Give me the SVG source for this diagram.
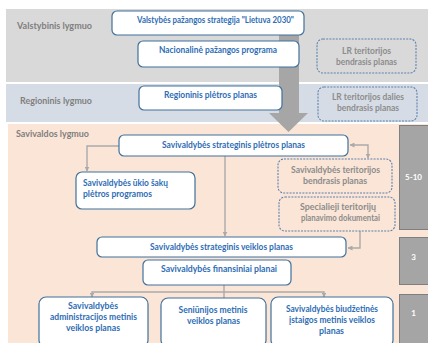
<svg xmlns="http://www.w3.org/2000/svg" width="428" height="343" viewBox="0 0 428 343">
<defs>
<style>
.box{fill:#fff;stroke:#41719c;stroke-width:1.2}
.dbox{fill:none;stroke:#5b82b0;stroke-width:1.1;stroke-dasharray:2 1.2}
.t{font-family:Lato,"Liberation Sans",sans-serif;font-weight:bold;font-size:8.5px;fill:#2e6db4;text-anchor:middle}
.g{font-family:Lato,"Liberation Sans",sans-serif;font-weight:bold;font-size:8.5px;fill:#8c8c8c;text-anchor:middle}
.lvl{font-family:Lato,"Liberation Sans",sans-serif;font-weight:bold;font-size:8.5px;fill:#7f7f7f}
.num{font-family:Lato,"Liberation Sans",sans-serif;font-weight:bold;font-size:8px;fill:#fff;text-anchor:middle}
.nb{fill:#a5a5a5;stroke:#7f7f7f;stroke-width:1}
.c{fill:none;stroke:#aaaaaa;stroke-width:1.4}
</style>
<marker id="ah" viewBox="0 0 10 10" refX="9" refY="5" markerWidth="5" markerHeight="5" orient="auto-start-reverse" markerUnits="userSpaceOnUse">
<path d="M0,0 L10,5 L0,10 z" fill="#aaaaaa"/>
</marker>
</defs>
<rect width="428" height="343" fill="#fff"/>
<g id="bands">
<rect x="6" y="9" width="422" height="73" fill="#d9d9d9"/>
<rect x="6" y="84" width="422" height="38" fill="#d6dce5"/>
<rect x="8" y="124" width="420" height="219" fill="#fbe5d6"/>
<text class="lvl" x="17" y="29" textLength="75" lengthAdjust="spacingAndGlyphs">Valstybinis  lygmuo</text>
<text class="lvl" x="20" y="104" textLength="72" lengthAdjust="spacingAndGlyphs">Regioninis  lygmuo</text>
<text class="lvl" x="16" y="137" textLength="73" lengthAdjust="spacingAndGlyphs">Savivaldos lygmuo</text>
</g>
<g id="bigarrow">
<path d="M279,33 L299,33 L299,113 L308,113 L288.5,132 L269,113 L279,113 z" fill="#a6a6a6"/>
</g>
<g id="connectors">
<path class="c" d="M119,146 H87 V171" marker-end="url(#ah)"/>
<path class="c" d="M350,145 H368 V158" marker-start="url(#ah)" marker-end="url(#ah)"/>
<path class="c" d="M225,156 V236" marker-end="url(#ah)"/>
<path class="c" d="M360,231 V248 H348" marker-end="url(#ah)"/>
<path class="c" d="M224,285 V298"/>
<path class="c" d="M92,297 V292 H324 V297" marker-start="url(#ah)" marker-end="url(#ah)"/>
</g>
<g id="n1">
<rect class="box" x="112" y="11" width="192" height="24" rx="5"/>
<text class="t" x="215.5" y="23" textLength="157" lengthAdjust="spacingAndGlyphs">Valstybės pažangos strategija "Lietuva 2030"</text>
</g>
<g id="n2">
<rect class="box" x="138" y="41" width="161" height="26" rx="5"/>
<text class="t" x="218" y="53" textLength="118" lengthAdjust="spacingAndGlyphs">Nacionalinė pažangos programa</text>
</g>
<g id="n3">
<rect class="box" x="139" y="86" width="143" height="24" rx="5"/>
<text class="t" x="210.5" y="98" textLength="93" lengthAdjust="spacingAndGlyphs">Regioninis plėtros planas</text>
</g>
<g id="n4">
<rect class="dbox" x="317" y="39" width="99" height="34" rx="6"/>
<text class="g" x="366.5" y="54" textLength="49" lengthAdjust="spacingAndGlyphs">LR teritorijos</text>
<text class="g" x="366.5" y="65" textLength="61" lengthAdjust="spacingAndGlyphs">bendrasis planas</text>
</g>
<g id="n5">
<rect class="dbox" x="318" y="87" width="99" height="34" rx="6"/>
<text class="g" x="368" y="100" textLength="72" lengthAdjust="spacingAndGlyphs">LR teritorijos dalies</text>
<text class="g" x="368" y="111" textLength="62" lengthAdjust="spacingAndGlyphs">bendrasis planas</text>
</g>
<g id="n6">
<rect class="box" x="119" y="135" width="229" height="21" rx="5"/>
<text class="t" x="233.5" y="148" textLength="143" lengthAdjust="spacingAndGlyphs">Savivaldybės strateginis plėtros planas</text>
</g>
<g id="n7">
<rect class="box" x="76" y="172" width="119" height="37" rx="6"/>
<text class="t" x="83" y="186" style="text-anchor:start" textLength="85" lengthAdjust="spacingAndGlyphs">Savivaldybės ūkio šakų</text>
<text class="t" x="83" y="197" style="text-anchor:start" textLength="69" lengthAdjust="spacingAndGlyphs">plėtros programos</text>
</g>
<g id="n8">
<rect class="dbox" x="278" y="159" width="114" height="34" rx="6"/>
<text class="g" x="335.5" y="173" textLength="89" lengthAdjust="spacingAndGlyphs">Savivaldybės teritorijos</text>
<text class="g" x="335" y="184" textLength="64" lengthAdjust="spacingAndGlyphs">bendrasis planas</text>
</g>
<g id="n9">
<rect class="dbox" x="279" y="197" width="116" height="34" rx="6"/>
<text class="g" x="338" y="210" textLength="76" lengthAdjust="spacingAndGlyphs">Specialieji teritorijų</text>
<text class="g" x="340.5" y="221" textLength="79" lengthAdjust="spacingAndGlyphs">planavimo dokumentai</text>
</g>
<g id="n10">
<rect class="box" x="97" y="237" width="249" height="20" rx="5"/>
<text class="t" x="221.5" y="249.5" textLength="143" lengthAdjust="spacingAndGlyphs">Savivaldybės strateginis veiklos planas</text>
</g>
<g id="n11">
<rect class="box" x="143" y="260" width="148" height="25" rx="5"/>
<text class="t" x="219" y="272" textLength="116" lengthAdjust="spacingAndGlyphs">Savivaldybės finansiniai planai</text>
</g>
<g id="n12">
<rect class="box" x="39" y="297" width="109" height="50" rx="7"/>
<text class="t" x="93" y="309" textLength="50" lengthAdjust="spacingAndGlyphs">Savivaldybės</text>
<text class="t" x="93.5" y="320" textLength="87" lengthAdjust="spacingAndGlyphs">administracijos metinis</text>
<text class="t" x="93" y="331" textLength="54" lengthAdjust="spacingAndGlyphs">veiklos planas</text>
</g>
<g id="n13">
<rect class="box" x="161" y="298" width="105" height="49" rx="7"/>
<text class="t" x="213" y="313" textLength="69" lengthAdjust="spacingAndGlyphs">Seniūnijos metinis</text>
<text class="t" x="213.5" y="324" textLength="53" lengthAdjust="spacingAndGlyphs">veiklos planas</text>
</g>
<g id="n14">
<rect class="box" x="271" y="297" width="122" height="50" rx="7"/>
<text class="t" x="332" y="312" textLength="92" lengthAdjust="spacingAndGlyphs">Savivaldybės biudžetinės</text>
<text class="t" x="332" y="323" textLength="86" lengthAdjust="spacingAndGlyphs">įstaigos metinis veiklos</text>
<text class="t" x="331.5" y="334" textLength="25" lengthAdjust="spacingAndGlyphs">planas</text>
</g>
<g id="n15">
<rect class="nb" x="399.5" y="125.5" width="31" height="104"/>
<text class="num" x="413.5" y="180">5-10</text>
</g>
<g id="n16">
<rect class="nb" x="399.5" y="237.5" width="31" height="47"/>
<text class="num" x="413.5" y="260">3</text>
</g>
<g id="n17">
<rect class="nb" x="399.5" y="294.5" width="31" height="52"/>
<text class="num" x="413.5" y="316">1</text>
</g>
</svg>
